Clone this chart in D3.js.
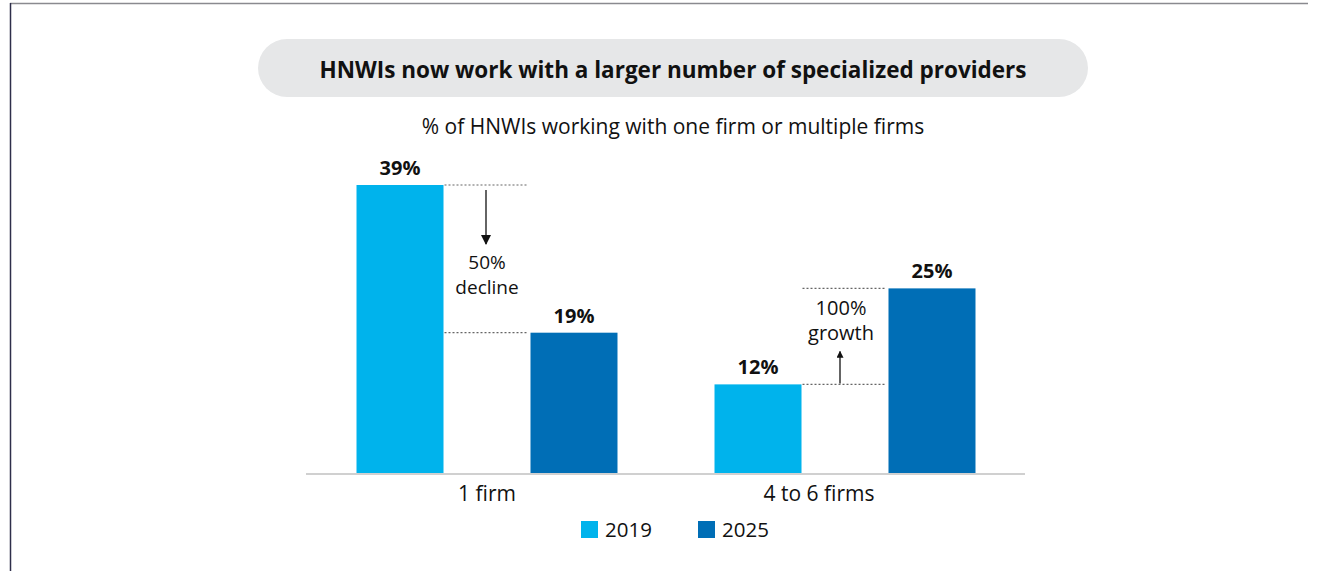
<!DOCTYPE html>
<html>
<head>
<meta charset="utf-8">
<script src="https://cdn.jsdelivr.net/npm/d3@7"></script>
<style>
html,body{margin:0;padding:0;background:#fff;}
svg{display:block;font-family:"Open Sans","Noto Sans",sans-serif;}
</style>
</head>
<body>
<svg id="chart" width="1337" height="571"></svg>
<script>
const categories = ["1 firm", "4 to 6 firms"];
const seriesNames = ["2019", "2025"];
const values2019 = [39, 12];
const values2025 = [19, 25];
const valueLabels2019 = ["39%", "12%"];
const valueLabels2025 = ["19%", "25%"];
const changeLabels = [["50%", "decline"], ["100%", "growth"]];
const colors = ["#00B3EC", "#006EB6"];
const title = "HNWIs now work with a larger number of specialized providers";
const subtitle = "% of HNWIs working with one firm or multiple firms";

const svg = d3.select("#chart");
const baseY = 473;
const FONT = '"Open Sans","Noto Sans",sans-serif';

// frame
svg.append("line").attr("x1", 10).attr("x2", 1308).attr("y1", 3.5).attr("y2", 3.5)
  .attr("stroke", "#8a8a8f").attr("stroke-width", 1.5);
svg.append("line").attr("x1", 10.5).attr("x2", 10.5).attr("y1", 3).attr("y2", 571)
  .attr("stroke", "#2e2e4a").attr("stroke-width", 1.5);

// title pill
svg.append("rect").attr("x", 258).attr("y", 39).attr("width", 830).attr("height", 58)
  .attr("rx", 29).attr("fill", "#e6e7e8");
svg.append("text").attr("x", 673).attr("y", 78).attr("text-anchor", "middle")
  .attr("font-size", 22.5).attr("font-weight", 700).attr("fill", "#111").text(title);
svg.append("text").attr("x", 673).attr("y", 134).attr("text-anchor", "middle")
  .attr("font-size", 21).attr("fill", "#111").text(subtitle);

const x0 = d3.scaleBand().domain(categories).range([308, 1024]).paddingInner(0.271).paddingOuter(0.1355);
const x1 = d3.scaleBand().domain(seriesNames).range([0, x0.bandwidth()]).paddingInner(0.5);
const y = d3.scaleLinear().domain([0, 39]).range([baseY, 185]);

const data = categories.map((c, i) => ({
  cat: c,
  vals: [
    {s: seriesNames[0], v: values2019[i], lab: valueLabels2019[i], col: colors[0]},
    {s: seriesNames[1], v: values2025[i], lab: valueLabels2025[i], col: colors[1]}
  ]
}));

const g = svg.selectAll("g.grp").data(data).enter().append("g")
  .attr("transform", d => `translate(${x0(d.cat)},0)`);
g.selectAll("rect").data(d => d.vals).enter().append("rect")
  .attr("x", d => x1(d.s)).attr("width", x1.bandwidth())
  .attr("y", d => y(d.v)).attr("height", d => baseY - y(d.v)).attr("fill", d => d.col);
g.selectAll("text.val").data(d => d.vals).enter().append("text")
  .attr("class", "val").attr("x", d => x1(d.s) + x1.bandwidth() / 2).attr("y", d => y(d.v) - 10)
  .attr("text-anchor", "middle").attr("font-size", 20).attr("font-weight", 700).attr("fill", "#111")
  .text(d => d.lab);

// baseline axis
const axis = d3.axisBottom(x0).tickSize(0).tickPadding(13);
const ax = svg.append("g").attr("transform", `translate(0,${baseY})`).call(axis);
ax.select(".domain").remove();
ax.selectAll("text").attr("font-size", 21).attr("fill", "#111").attr("font-family", FONT)
  .attr("dx", (d, i) => i === 1 ? -26 : 0);
svg.append("line").attr("x1", 306).attr("x2", 1025).attr("y1", baseY + 1).attr("y2", baseY + 1)
  .attr("stroke", "#d0d0d0").attr("stroke-width", 2);

// annotations
const defs = svg.append("defs");
defs.append("marker").attr("id", "ah").attr("viewBox", "0 0 10 10")
  .attr("refX", 9).attr("refY", 5).attr("markerWidth", 10).attr("markerHeight", 10)
  .attr("markerUnits", "userSpaceOnUse").attr("orient", "auto")
  .append("path").attr("d", "M0,0L10,5L0,10Z").attr("fill", "#111");
defs.append("marker").attr("id", "ah2").attr("viewBox", "0 0 10 10")
  .attr("refX", 9).attr("refY", 5).attr("markerWidth", 7).attr("markerHeight", 7)
  .attr("markerUnits", "userSpaceOnUse").attr("orient", "auto")
  .append("path").attr("d", "M0,0L10,5L0,10Z").attr("fill", "#111");

data.forEach((d, i) => {
  const gx = x0(d.cat);
  const left = gx + x1(seriesNames[0]) + x1.bandwidth();
  const right = gx + x1(seriesNames[1]);
  const mid = (left + right) / 2;
  const yA = y(values2019[i]), yB = y(values2025[i]);
  [yA, yB].forEach(yy => {
    svg.append("line").attr("x1", left + 1).attr("x2", right - 2).attr("y1", yy).attr("y2", yy)
      .attr("stroke", "#666").attr("stroke-width", 1.2).attr("stroke-dasharray", "2,2");
  });
  const lab = changeLabels[i];
  if (values2025[i] < values2019[i]) {
    svg.append("line").attr("x1", mid - 1).attr("x2", mid - 1).attr("y1", yA + 5).attr("y2", yA + 59)
      .attr("stroke", "#111").attr("stroke-width", 1.3).attr("marker-end", "url(#ah)");
    svg.append("text").attr("x", mid).attr("y", yA + 84).attr("text-anchor", "middle")
      .attr("font-size", 19).attr("fill", "#111").text(lab[0]);
    svg.append("text").attr("x", mid).attr("y", yA + 108.5).attr("text-anchor", "middle")
      .attr("font-size", 19).attr("fill", "#111").text(lab[1]);
  } else {
    svg.append("line").attr("x1", mid - 5).attr("x2", mid - 5).attr("y1", yA - 1).attr("y2", yA - 33)
      .attr("stroke", "#111").attr("stroke-width", 1.3).attr("marker-end", "url(#ah2)");
    svg.append("text").attr("x", mid - 4).attr("y", yB + 27).attr("text-anchor", "middle")
      .attr("font-size", 20).attr("fill", "#111").text(lab[0]);
    svg.append("text").attr("x", mid - 4).attr("y", yB + 52).attr("text-anchor", "middle")
      .attr("font-size", 20).attr("fill", "#111").text(lab[1]);
  }
});

// legend
const legX = [581, 698];
seriesNames.forEach((s, i) => {
  svg.append("rect").attr("x", legX[i]).attr("y", 521).attr("width", 17).attr("height", 17).attr("fill", colors[i]);
  svg.append("text").attr("x", legX[i] + 24).attr("y", 537).attr("font-size", 20.5).attr("fill", "#111").text(s);
});
</script>
</body>
</html>
